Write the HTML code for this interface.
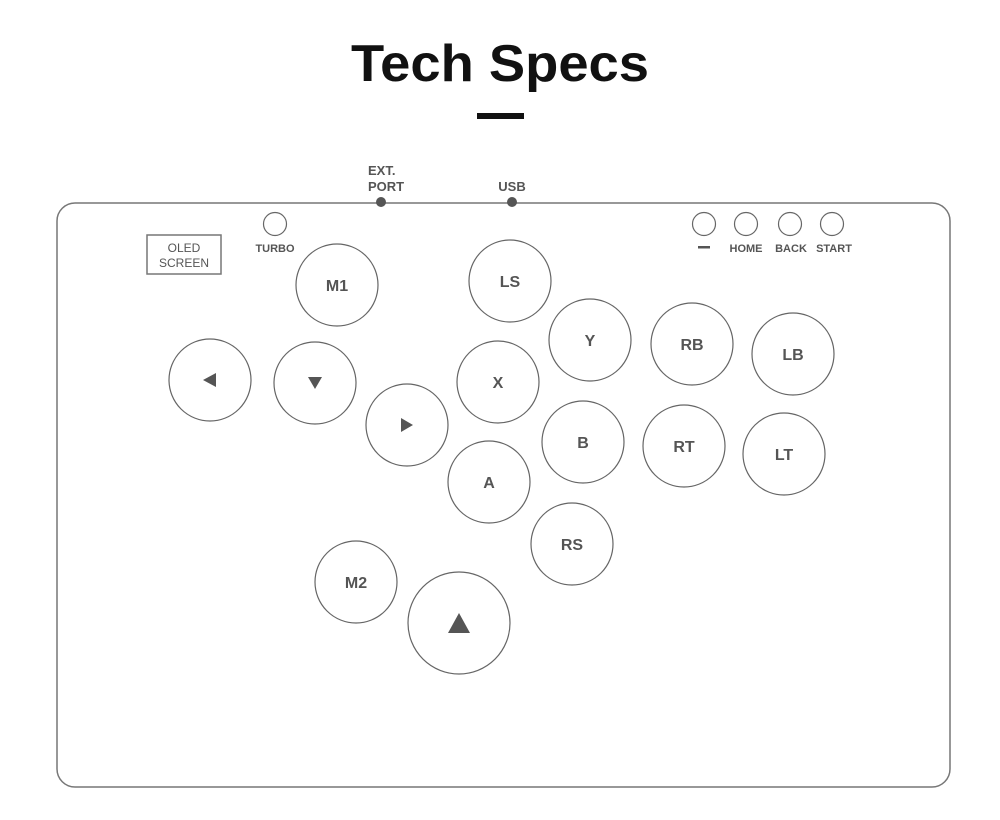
<!DOCTYPE html>
<html><head><style>body{margin:0;background:#fff}svg{display:block}</style></head><body>
<svg width="1000" height="820" viewBox="0 0 1000 820" xmlns="http://www.w3.org/2000/svg" font-family="Liberation Sans, sans-serif">
<text x="500" y="81" text-anchor="middle" font-size="52" font-weight="bold" fill="#111" textLength="298" lengthAdjust="spacingAndGlyphs">Tech Specs</text>
<rect x="477" y="113" width="47" height="6" fill="#111"/>
<rect x="57" y="203" width="893" height="584" rx="18" fill="none" stroke="#777" stroke-width="1.5"/>
<circle cx="381" cy="202" r="5" fill="#555"/><circle cx="512" cy="202" r="5" fill="#555"/>
<g fill="#555" font-size="13" font-weight="bold" text-anchor="middle">
<text x="368" y="175" text-anchor="start">EXT.</text><text x="368" y="191" text-anchor="start">PORT</text>
<text x="512" y="191">USB</text>
</g>
<rect x="147" y="235" width="74" height="39" fill="none" stroke="#777" stroke-width="1.5"/>
<g fill="#555" font-size="12" text-anchor="middle"><text x="184" y="252">OLED</text><text x="184" y="267">SCREEN</text></g>
<g fill="none" stroke="#666" stroke-width="1.2">
<circle cx="275" cy="224" r="11.5"/><circle cx="704" cy="224" r="11.5"/><circle cx="746" cy="224" r="11.5"/><circle cx="790" cy="224" r="11.5"/><circle cx="832" cy="224" r="11.5"/>
</g>
<rect x="698" y="246" width="12" height="2.5" fill="#555"/>
<g fill="#555" font-size="11" font-weight="bold" text-anchor="middle">
<text x="275" y="252">TURBO</text><text x="746" y="252">HOME</text><text x="791" y="252">BACK</text><text x="834" y="252">START</text>
</g>
<g fill="none" stroke="#666" stroke-width="1.2">
<circle cx="337" cy="285" r="41"/><circle cx="510" cy="281" r="41"/><circle cx="590" cy="340" r="41"/><circle cx="692" cy="344" r="41"/><circle cx="793" cy="354" r="41"/>
<circle cx="210" cy="380" r="41"/><circle cx="315" cy="383" r="41"/><circle cx="498" cy="382" r="41"/><circle cx="407" cy="425" r="41"/><circle cx="583" cy="442" r="41"/><circle cx="684" cy="446" r="41"/><circle cx="784" cy="454" r="41"/><circle cx="489" cy="482" r="41"/><circle cx="572" cy="544" r="41"/><circle cx="356" cy="582" r="41"/><circle cx="459" cy="623" r="51"/>
</g>
<g fill="#555" font-size="16" font-weight="bold" text-anchor="middle">
<text x="337" y="291">M1</text><text x="510" y="287">LS</text><text x="590" y="346">Y</text><text x="692" y="350">RB</text><text x="793" y="360">LB</text>
<text x="498" y="388">X</text><text x="583" y="448">B</text><text x="684" y="452">RT</text><text x="784" y="460">LT</text><text x="489" y="488">A</text><text x="572" y="550">RS</text><text x="356" y="588">M2</text>
</g>
<g fill="#555">
<polygon points="203,380 216,373 216,387"/>
<polygon points="308,377 322,377 315,389"/>
<polygon points="401,418 401,432 413,425"/>
<polygon points="448,633 470,633 459,613"/>
</g>
</svg>
</body></html>
